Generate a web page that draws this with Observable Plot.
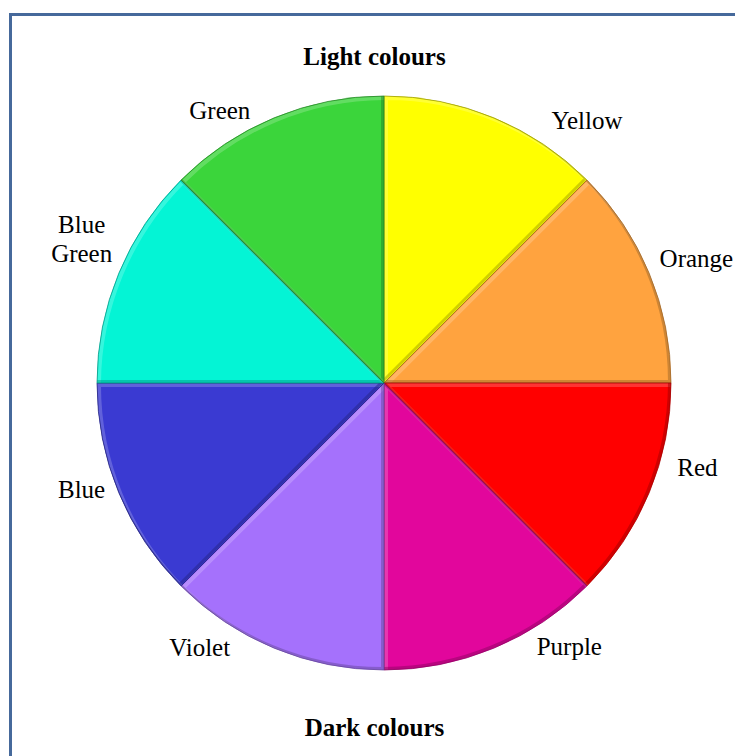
<!DOCTYPE html>
<html><head><meta charset="utf-8">
<script src="https://cdn.jsdelivr.net/npm/d3@7"></script>
<script src="https://cdn.jsdelivr.net/npm/@observablehq/plot@0.6"></script>
<style>
html,body{margin:0;padding:0;background:#fff;overflow:hidden}
#wrap{position:relative;width:735px;height:756px;overflow:hidden}
#wrap svg{display:block;position:absolute;left:0;top:0}
#border{position:absolute;left:9px;top:13px;width:800px;height:800px;border:3px solid #46699b;box-sizing:border-box;pointer-events:none}
</style></head><body><div id="wrap"><div id="border"></div></div>
<script>
// ---- data ----
const categories = ["Yellow", "Orange", "Red", "Purple", "Violet", "Blue", "Blue Green", "Green"];
const shares = [1, 1, 1, 1, 1, 1, 1, 1];
const sliceColors = ["#ffff00", "#ffa33f", "#ff0000", "#e2069c", "#a571fc", "#3a3ad2", "#04f4d5", "#3bd53b"];
const groupTitles = ["Light colours", "Dark colours"];
// ---- layout: label placement in polar terms (deg clockwise from top, radius as share of pie radius) ----
const labelAngle = [37.5, 68, 104.9, 144.8, 215.1, 250.9, 295.7, 329];
const labelRadius = [1.159, 1.172, 1.128, 1.117, 1.12, 1.117, 1.171, 1.114];

const slices = categories.map((c, i) => ({category: c, share: shares[i], color: sliceColors[i]}));
const arcs = d3.pie().sort(null).value(d => d.share).startAngle(0).endAngle(2 * Math.PI)(slices);
const labels = categories.map((c, i) => {
  const a = labelAngle[i] * Math.PI / 180, r = labelRadius[i];
  return {text: c.replace(" ", "\n"), px: r * Math.sin(a), py: r * Math.cos(a)};
});

function pieMark(index, scales) {
  const cx = scales.x(0), cy = scales.y(0), R = scales.x(1) - cx;
  const arcGen = d3.arc().innerRadius(0).outerRadius(R);
  const g = d3.create("svg:g").attr("transform", `translate(${cx},${cy})`);
  const defs = g.append("defs");
  arcs.forEach((a, i) => {
    const p = arcGen(a);
    const col = a.data.color;
    const id = "clipslice" + i;
    defs.append("clipPath").attr("id", id).append("path").attr("d", p);
    const s = g.append("g");
    s.append("path").attr("d", p).attr("fill", col);
    const inner = s.append("g").attr("clip-path", `url(#${id})`);
    inner.append("path").attr("d", p).attr("transform", "translate(2,2)")
      .attr("fill", "none").attr("stroke", "#ffffff").attr("stroke-opacity", 0.2).attr("stroke-width", 4);
    inner.append("path").attr("d", p).attr("transform", "translate(-1.5,-1.5)")
      .attr("fill", "none").attr("stroke", d3.color(col).darker(1.3)).attr("stroke-opacity", 0.5).attr("stroke-width", 3);
    s.append("path").attr("d", p).attr("fill", "none")
      .attr("stroke", d3.color(col).darker(1.4)).attr("stroke-opacity", 0.75).attr("stroke-width", 1);
  });
  return g.node();
}

const chart = Plot.plot({
  width: 735,
  height: 756,
  marginLeft: 97,
  marginRight: 64,
  marginTop: 96,
  marginBottom: 86,
  x: {domain: [-1, 1], axis: null},
  y: {domain: [-1, 1], axis: null},
  style: {background: "transparent", fontFamily: "'Liberation Serif', 'Times New Roman', serif"},
  marks: [
    pieMark,
    Plot.text(labels, {x: "px", y: "py", text: "text", fontSize: 25, lineHeight: 1.16,
      fontFamily: "'Liberation Serif', 'Times New Roman', serif", fill: "#000"}),
    Plot.text([groupTitles[0]], {frameAnchor: "top", dx: -10, dy: -49, fontSize: 25, fontWeight: "bold",
      fontFamily: "'Liberation Serif', 'Times New Roman', serif", fill: "#000"}),
    Plot.text([groupTitles[1]], {frameAnchor: "bottom", dx: -10, dy: 65, fontSize: 25, fontWeight: "bold",
      fontFamily: "'Liberation Serif', 'Times New Roman', serif", fill: "#000"})
  ]
});
const wrap = document.getElementById("wrap");
wrap.insertBefore(chart, document.getElementById("border"));
</script>
</body></html>
